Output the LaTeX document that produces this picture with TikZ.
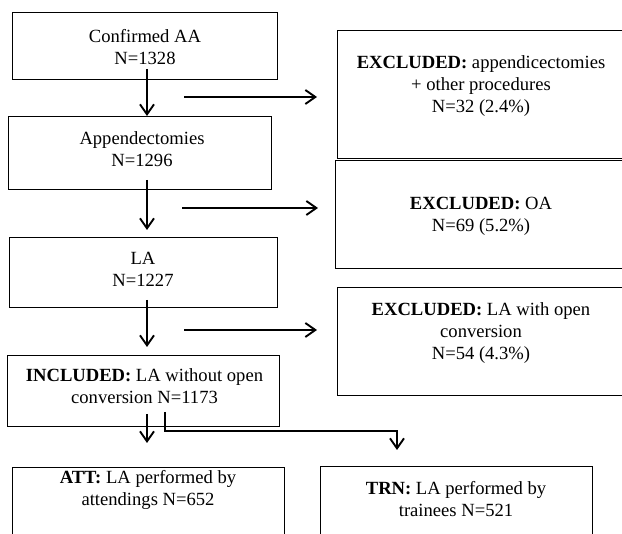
\documentclass[tikz,border=0pt]{standalone}
\usepackage{fontspec}
\setmainfont{Liberation Serif}
\usetikzlibrary{arrows.meta}
\begin{document}
\begin{tikzpicture}[x=1pt,y=-1pt,
  box/.style={draw, line width=1.1pt, inner sep=0pt, anchor=north west},
  txt/.style={align=center, inner sep=0pt, font=\fontsize{18.6}{22}\selectfont},
  arr/.style={line width=1.9pt, -{Straight Barb[length=10pt,width=14pt,line width=1.9pt]}}]
\useasboundingbox (0,0) rectangle (622,534);
\clip (0,0) rectangle (622,534);
% boxes
\node[box, minimum width=265pt, minimum height=67pt] (b1) at (12,12) {};
\node[box, minimum width=263pt, minimum height=73pt] (b2) at (8,116) {};
\node[box, minimum width=268pt, minimum height=70pt] (b3) at (9,237) {};
\node[box, minimum width=272pt, minimum height=71pt] (b4) at (7,355) {};
\node[box, minimum width=300pt, minimum height=128pt] (e1) at (337,30) {};
\node[box, minimum width=300pt, minimum height=108pt] (e2) at (335,160) {};
\node[box, minimum width=300pt, minimum height=108pt] (e3) at (337,287) {};
\node[box, minimum width=272pt, minimum height=80pt] (att) at (12,467) {};
\node[box, minimum width=272pt, minimum height=80pt] (trn) at (320,466) {};
% texts
\node[txt] (t1) at (145,47) {Confirmed AA\\N=1328};
\node[txt] (t2) at (142,149) {Appendectomies\\N=1296};
\node[txt] (t3) at (143,269) {LA\\N=1227};
\node[txt] (t4) at (144.5,386) {\textbf{INCLUDED:} LA without open\\conversion N=1173};
\node[txt] (te1) at (481,86) {\textbf{EXCLUDED:} appendicectomies\\+ other procedures\\N=32 (2.4\%)};
\node[txt] (te2) at (481,216) {\textbf{EXCLUDED:} OA\\N=69 (5.2\%)};
\node[txt] (te3) at (481,333) {\textbf{EXCLUDED:} LA with open\\conversion\\N=54 (4.3\%)};
\node[txt] (tatt) at (148,490) {\textbf{ATT:} LA performed by\\attendings N=652};
\node[txt] (ttrn) at (456,499) {\textbf{TRN:} LA performed by\\trainees N=521};
% connector end points
\coordinate (v1s) at (147,69);
\coordinate (v2s) at (147,180);
\coordinate (v2e) at (147,230);
\coordinate (v3s) at (147,300);
\coordinate (v3e) at (147,347);
\coordinate (v4s) at (147,414);
\coordinate (v4e) at (147,443);
\coordinate (h1s) at (184,97);
\coordinate (h1e) at (317,97);
\coordinate (h2s) at (182,208);
\coordinate (h2e) at (318,208);
\coordinate (h3s) at (184,330);
\coordinate (h3e) at (317,330);
\coordinate (fs) at (165,412);
\coordinate (fc) at (397,431);
\coordinate (fe) at (397,450);
% connectors
\draw[arr] (v1s) -- (v1s |- b2.north);
\draw[arr] (v2s) -- (v2e);
\draw[arr] (v3s) -- (v3e);
\draw[arr] (v4s) -- (v4e);
\draw[arr] (h1s) -- (h1e);
\draw[arr] (h2s) -- (h2e);
\draw[arr] (h3s) -- (h3e);
\draw[arr] (fs) |- (fc) -- (fe);
\end{tikzpicture}
\end{document}
